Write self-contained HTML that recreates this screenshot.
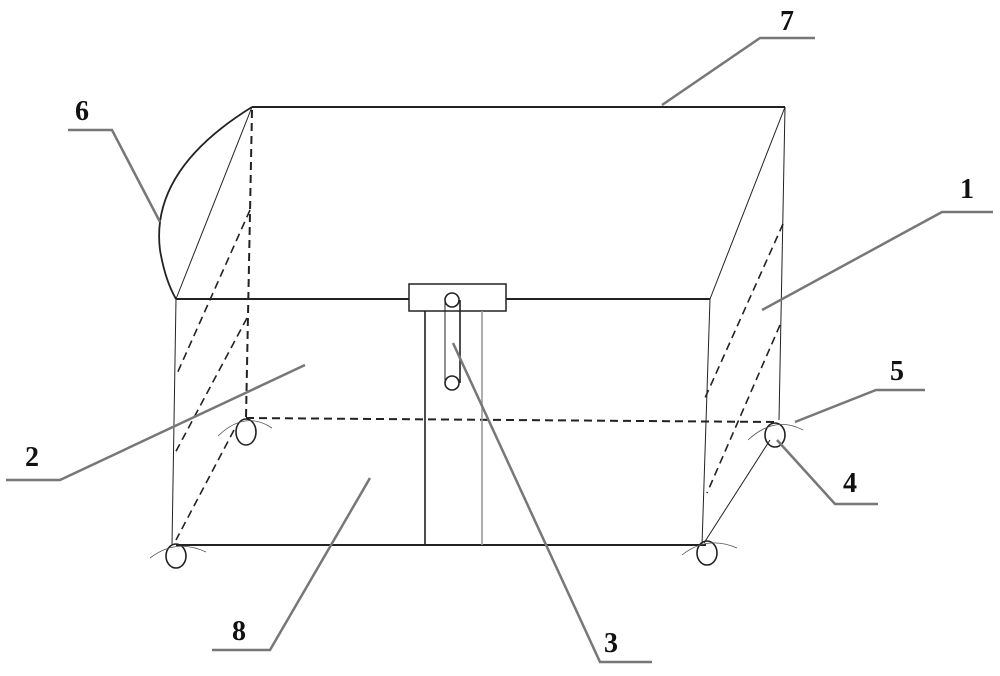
<!DOCTYPE html>
<html><head><style>html,body{margin:0;padding:0;background:#fff}svg{display:block}
text{font-family:"Liberation Serif",serif;font-weight:bold;font-size:28px;fill:#111}</style></head>
<body><svg width="1000" height="676" viewBox="0 0 1000 676" xmlns="http://www.w3.org/2000/svg">
<g fill="none" stroke="#222" stroke-width="1.6">
<line x1="252" y1="107" x2="785" y2="107" stroke-width="2"/>
<line x1="176" y1="299" x2="409" y2="299" stroke-width="2"/>
<line x1="506" y1="299" x2="710" y2="299" stroke-width="2"/>
<line x1="176" y1="545" x2="706" y2="545" stroke-width="2"/>
<path d="M252,107 Q150,170 160,250 Q165,280 176,299" stroke-width="1.8"/>
<line x1="252" y1="107" x2="176" y2="299" stroke-width="1"/>
<line x1="785" y1="107" x2="710" y2="299" stroke-width="1"/>
<line x1="176" y1="299" x2="172" y2="545" stroke-width="1"/>
<line x1="710" y1="299" x2="702" y2="545" stroke-width="1"/>
<line x1="785" y1="107" x2="779" y2="420" stroke-width="1"/>
<line x1="770" y1="440" x2="704" y2="543" stroke-width="1"/>
<g stroke-dasharray="8,5">
<line x1="252" y1="110" x2="246" y2="418" stroke-width="2"/>
<line x1="246" y1="418" x2="775" y2="422" stroke-width="2"/>
<line x1="250" y1="210" x2="176" y2="376"/>
<line x1="247" y1="318" x2="174" y2="455"/>
<line x1="234" y1="430" x2="176" y2="540"/>
<line x1="783" y1="224" x2="705" y2="398"/>
<line x1="780" y1="325" x2="707" y2="493"/>
</g>
<rect x="409" y="284" width="97" height="27" stroke-width="1.5"/>
<circle cx="452" cy="300" r="7"/>
<circle cx="452" cy="383" r="7"/>
<line x1="445" y1="300" x2="445" y2="383" stroke-width="1"/>
<line x1="460" y1="300" x2="460" y2="383"/>
<line x1="425" y1="311" x2="425" y2="545"/>
<line x1="482" y1="311" x2="482" y2="545" stroke="#999"/>
<ellipse cx="246" cy="432" rx="10" ry="13"/>
<ellipse cx="176" cy="556" rx="10" ry="12"/>
<ellipse cx="775" cy="435" rx="10" ry="12"/>
<ellipse cx="707" cy="553" rx="10" ry="12"/>
<g stroke="#555" stroke-width="0.8">
<path d="M218,436 Q245,410 272,428"/>
<path d="M150,558 Q176,538 206,552"/>
<path d="M748,440 Q775,415 803,430"/>
<path d="M682,555 Q707,535 737,548"/>
</g>
</g>
<g fill="none" stroke="#777" stroke-width="2.5">
<polyline points="662,105 760,38 815,38"/>
<polyline points="160,222 112,130 68,130"/>
<polyline points="762,310 942,212 993,212"/>
<polyline points="795,422 876,390 925,390"/>
<polyline points="777,440 835,504 878,504"/>
<polyline points="305,365 60,480 6,480"/>
<polyline points="370,478 270,650 212,650"/>
<polyline points="453,343 600,662 652,662"/>
</g>
<text x="780" y="30">7</text>
<text x="75" y="120">6</text>
<text x="960" y="198">1</text>
<text x="890" y="380">5</text>
<text x="843" y="492">4</text>
<text x="25" y="466">2</text>
<text x="232" y="640">8</text>
<text x="604" y="652">3</text>
</svg></body></html>
